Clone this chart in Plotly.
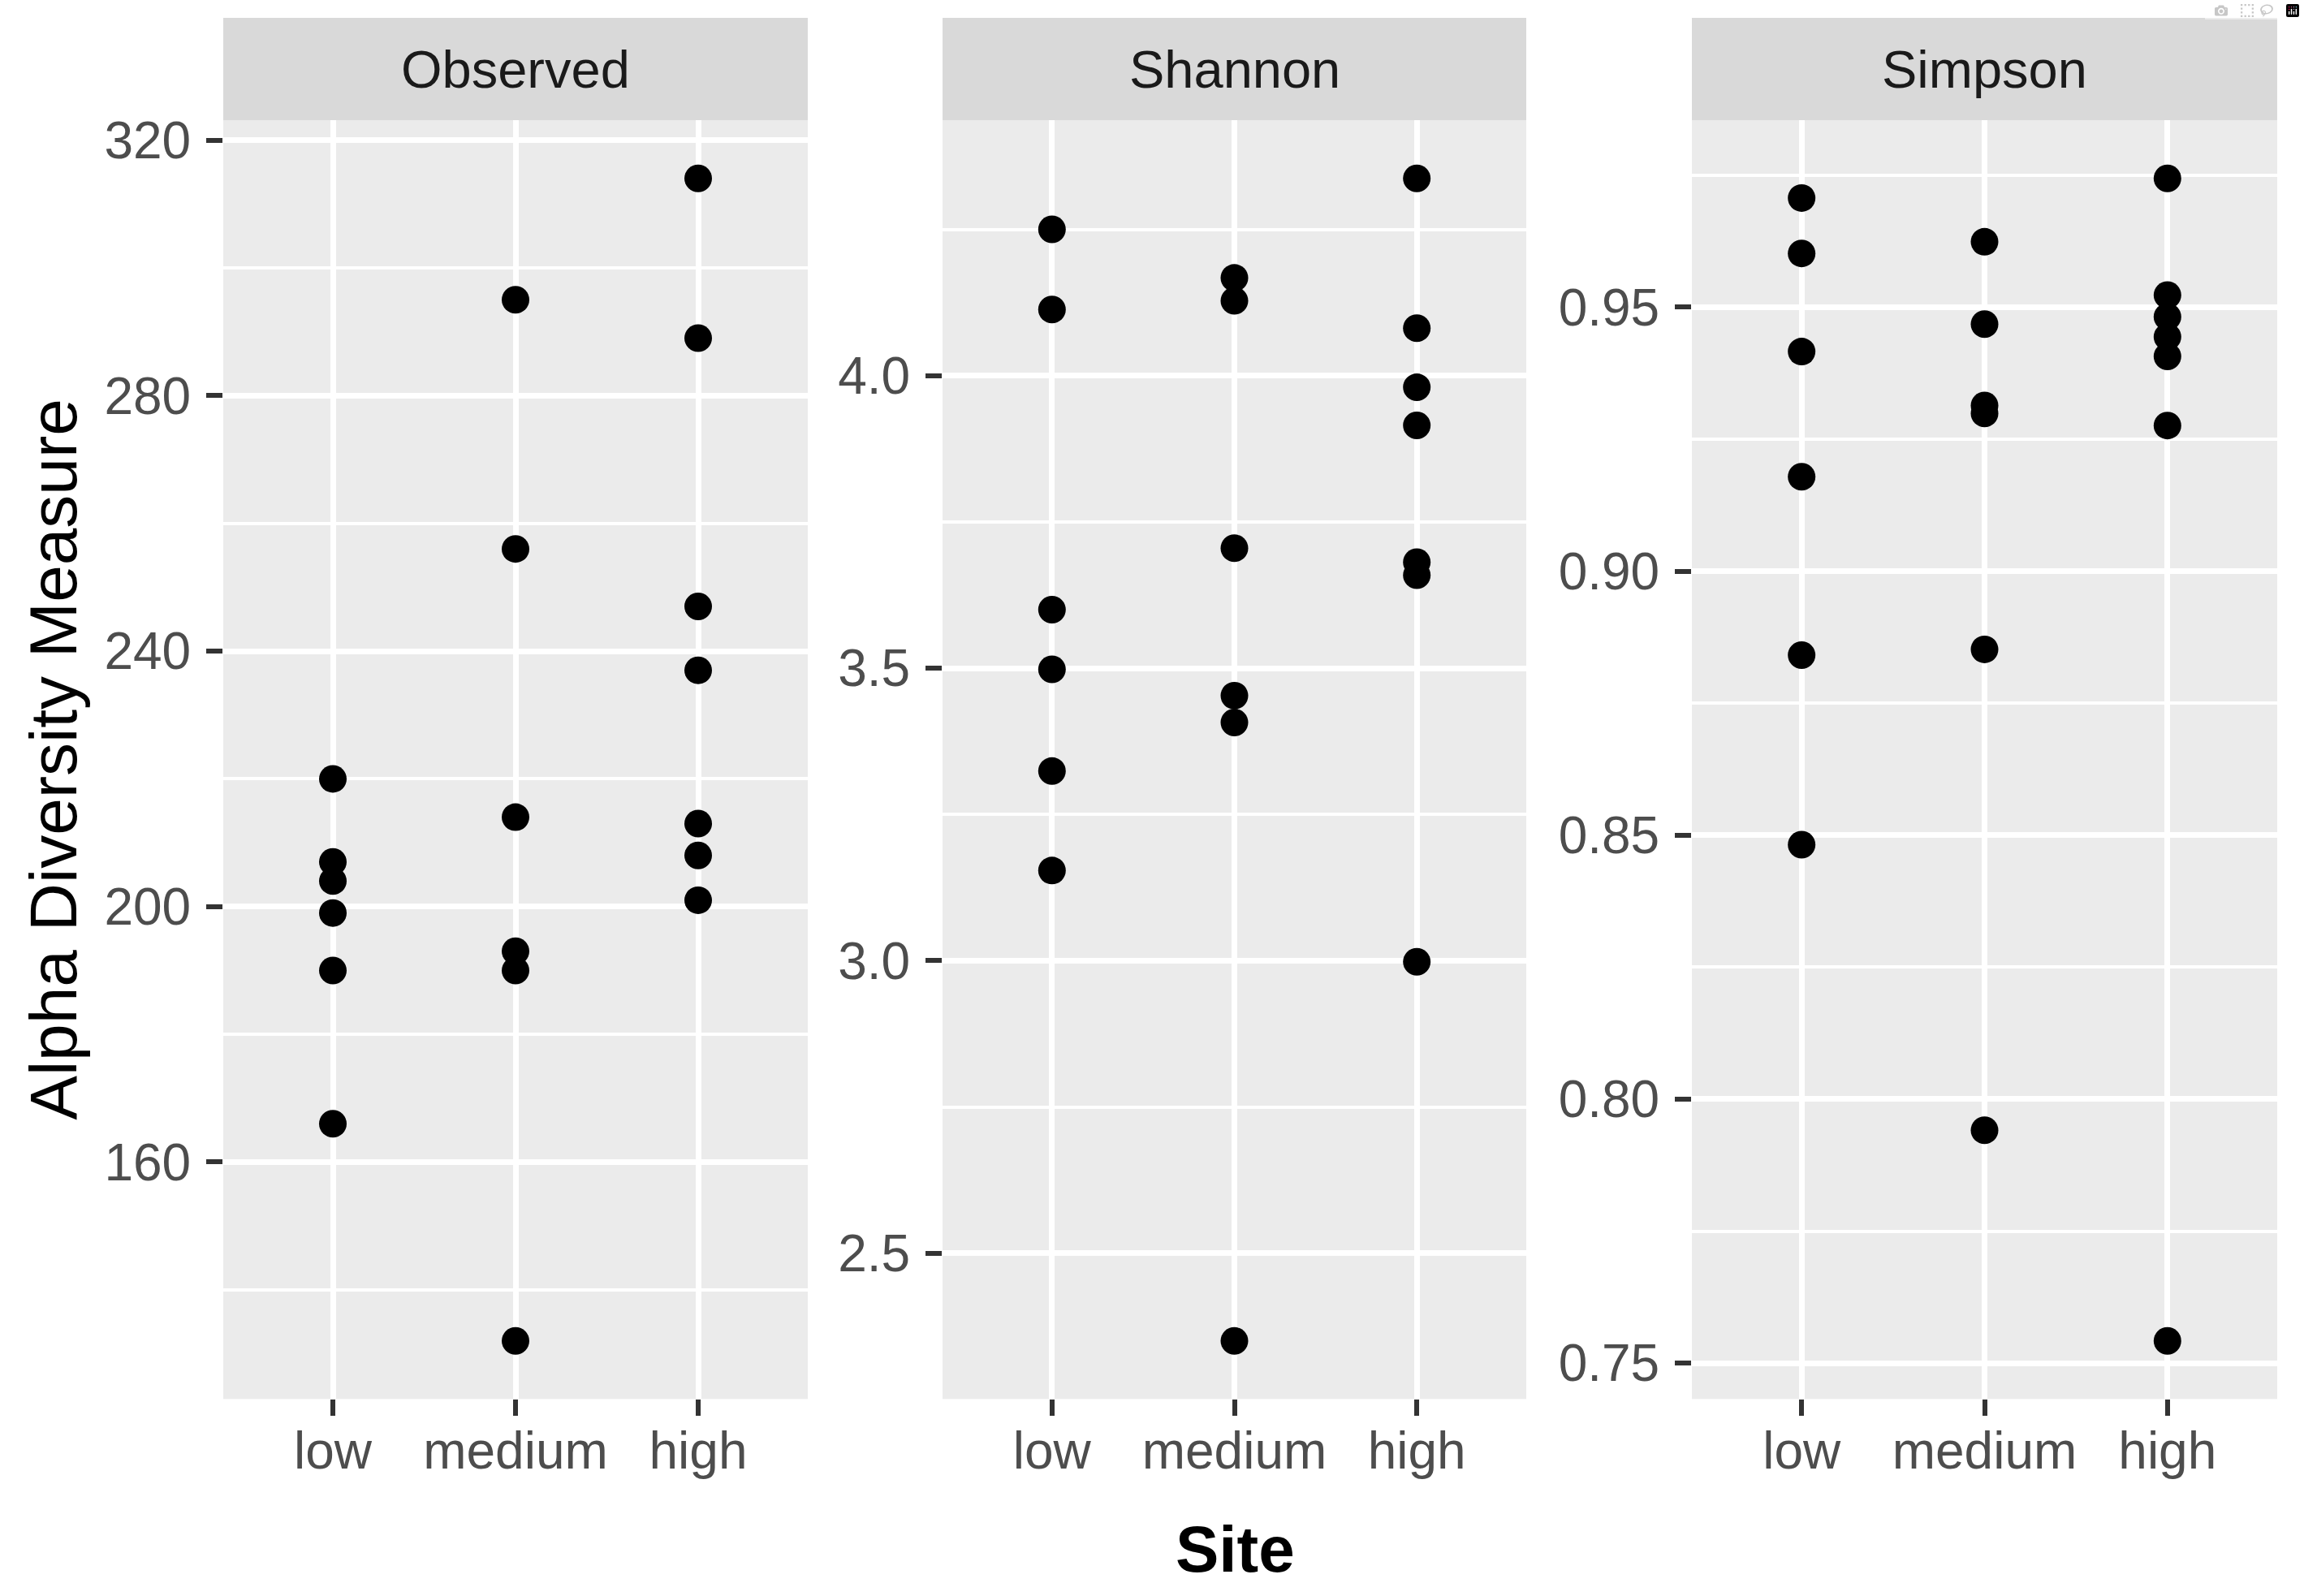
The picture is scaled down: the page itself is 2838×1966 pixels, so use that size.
import plotly.graph_objects as go

W, H = 2838, 1966

sites = ["low", "medium", "high"]
panels = ["Observed", "Shannon", "Simpson"]

observed_low = [220, 207, 204, 199, 190, 166]
observed_medium = [295, 256, 214, 193, 190, 132]
observed_high = [314, 289, 247, 237, 213, 208, 201]

shannon_low = [4.250, 4.113, 3.600, 3.498, 3.324, 3.154]
shannon_medium = [4.167, 4.128, 3.705, 3.453, 3.407, 2.350]
shannon_high = [4.337, 4.081, 3.980, 3.915, 3.681, 3.659, 2.998]

simpson_low = [0.9707, 0.9602, 0.9416, 0.9179, 0.8841, 0.8482]
simpson_medium = [0.9624, 0.9468, 0.9314, 0.9299, 0.8852, 0.7941]
simpson_high = [0.9744, 0.9523, 0.9482, 0.9444, 0.9407, 0.9276, 0.7542]

panel_data = [
    [observed_low, observed_medium, observed_high],
    [shannon_low, shannon_medium, shannon_high],
    [simpson_low, simpson_medium, simpson_high],
]

# styling (pixel positions in the 2838x1966 page)
DX = -1
x_px = [(276 + DX, 996 + DX), (1162 + DX, 1881 + DX), (2085 + DX, 2806 + DX)]
plot_top, plot_bot = 138, 1722
strip_top = 11
major_dt = [40, 0.5, 0.05]
tick_fmt = ["d", ".1f", ".2f"]

fig = go.Figure()
shapes = []
annotations = []
layout = {}

for i, (name, groups) in enumerate(zip(panels, panel_data)):
    sfx = "" if i == 0 else str(i + 1)
    xs, ys = [], []
    for s, vals in zip(sites, groups):
        xs += [s] * len(vals)
        ys += vals
    fig.add_trace(go.Scatter(
        x=xs, y=ys, mode="markers",
        marker=dict(color="black", size=34, line=dict(width=0)),
        xaxis="x" + sfx, yaxis="y" + sfx, showlegend=False,
    ))
    allv = [v for g in groups for v in g]
    lo, hi = min(allv), max(allv)
    pad = 0.05 * (hi - lo)
    x0, x1 = x_px[i][0] / W, x_px[i][1] / W
    y0, y1 = 1 - plot_bot / H, 1 - plot_top / H
    layout["xaxis" + sfx] = dict(
        domain=[x0, x1], anchor="y" + sfx, type="category",
        categoryorder="array", categoryarray=sites, range=[-0.6, 2.6],
        showgrid=True, gridcolor="white", gridwidth=7,
        ticks="outside", ticklen=20, tickwidth=6, tickcolor="#333333",
        tickfont=dict(size=64, color="#4D4D4D"),
        ticklabelstandoff=-12,
        showline=False, zeroline=False, fixedrange=True,
    )
    layout["yaxis" + sfx] = dict(
        domain=[y0, y1], anchor="x" + sfx,
        range=[lo - pad, hi + pad],
        dtick=major_dt[i], tick0=0, tickformat=tick_fmt[i],
        showgrid=True, gridcolor="white", gridwidth=7,
        minor=dict(dtick=major_dt[i] / 2, tick0=0, showgrid=True,
                   gridcolor="white", gridwidth=3.5, ticks=""),
        ticks="outside", ticklen=20, tickwidth=6, tickcolor="#333333",
        tickfont=dict(size=64, color="#4D4D4D"),
        ticklabelstandoff=6,
        showline=False, zeroline=False, fixedrange=True,
    )
    shapes.append(dict(
        type="rect", xref="paper", yref="paper",
        x0=x0, x1=x1, y0=y1, y1=1 - strip_top / H,
        fillcolor="#D9D9D9", line=dict(width=0), layer="below",
    ))
    annotations.append(dict(
        text=name, xref="paper", yref="paper",
        x=(x0 + x1) / 2, y=1 - (strip_top + plot_top) / 2 / H,
        showarrow=False, xanchor="center", yanchor="middle",
        font=dict(size=65, color="#1A1A1A"),
    ))

annotations.append(dict(
    text="Alpha Diversity Measure", xref="paper", yref="paper",
    x=(67 + DX) / W, y=1 - (plot_top + plot_bot) / 2 / H, textangle=-90,
    showarrow=False, xanchor="center", yanchor="middle",
    font=dict(size=82, color="black"),
))
annotations.append(dict(
    text="<b>Site</b>", xref="paper", yref="paper",
    x=(1522 + DX) / W, y=1 - 1908 / H,
    showarrow=False, xanchor="center", yanchor="middle",
    font=dict(size=80, color="black"),
))

fig.update_layout(
    width=W, height=H,
    margin=dict(l=0, r=0, t=0, b=0),
    paper_bgcolor="white", plot_bgcolor="#EBEBEB",
    font=dict(family="Liberation Sans, Arial, sans-serif"),
    shapes=shapes, annotations=annotations,
    **layout,
)

fig.write_html("out.html", post_script="document.body.style.margin='0';")
